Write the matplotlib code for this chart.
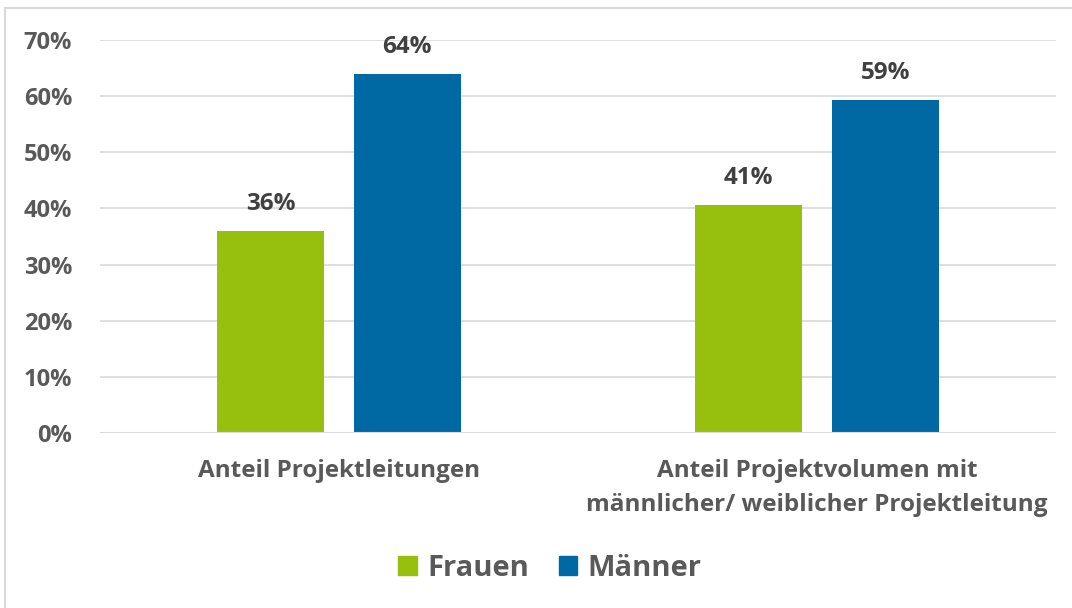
import matplotlib.pyplot as plt
from matplotlib.patches import Rectangle, Patch
import numpy as np

plt.rcParams['font.family'] = ['Open Sans', 'DejaVu Sans']
plt.rcParams['font.weight'] = 'bold'

# --- data ---
categories = ['Anteil Projektleitungen',
              'Anteil Projektvolumen mit\nmännlicher/ weiblicher Projektleitung']
frauen = [36.0, 40.6]
maenner = [64.0, 59.4]
labels_frauen = ['36%', '41%']
labels_maenner = ['64%', '59%']
yticks = [0, 10, 20, 30, 40, 50, 60, 70]

green = '#97BF0D'
blue = '#0069A4'
grey_text = '#595959'
grid_col = '#D9D9D9'

fig = plt.figure(figsize=(10.72, 6.08), dpi=100)
ax = fig.add_axes([100 / 1072, 1 - 433 / 608, 956 / 1072, (433 - 40) / 608])

x = np.arange(len(categories))
w = 0.224
off = 0.143
b1 = ax.bar(x - off, frauen, w, color=green, zorder=3)
b2 = ax.bar(x + off, maenner, w, color=blue, zorder=3)

for bars, labs in ((b1, labels_frauen), (b2, labels_maenner)):
    for r, t in zip(bars, labs):
        ax.text(r.get_x() + r.get_width() / 2, r.get_height() + 2.6, t,
                ha='center', va='bottom', fontsize=17.5, fontweight='bold',
                color='#404040')

ax.set_xlim(-0.5, 1.5)
ax.set_ylim(0, 70)
ax.set_yticks(yticks)
ax.set_yticklabels([f'{v}%' for v in yticks], fontsize=17, fontweight='bold',
                   color=grey_text)
ax.set_xticks(x)
ax.set_xticklabels(categories, fontsize=17.5, fontweight='bold', color=grey_text,
                   linespacing=1.55)
ax.tick_params(axis='both', length=0)
ax.tick_params(axis='y', pad=20)
ax.tick_params(axis='x', pad=19)
ax.yaxis.grid(True, color=grid_col, linewidth=1.2, zorder=0)
for s in ax.spines.values():
    s.set_visible(False)
ax.axhline(0, color=grid_col, linewidth=1.5, zorder=4)

handles = [Patch(color=green, label='Frauen'), Patch(color=blue, label='Männer')]
fig.legend(handles=handles, loc='center', bbox_to_anchor=(550 / 1072, 1 - 568 / 608),
           ncol=2, frameon=False, prop={'size': 21, 'weight': 'bold'},
           handlelength=0.65, handleheight=0.65, handletextpad=0.35, columnspacing=1.0,
           labelcolor=grey_text)

# outer chart border (right/bottom are cut off in the original)
fig.patches.append(Rectangle((5 / 1072, -0.1), 1.2, 1 - 8 / 608 + 0.1,
                             transform=fig.transFigure, fill=False,
                             edgecolor=grid_col, linewidth=1.5))

fig.savefig('out.png', dpi=100)
